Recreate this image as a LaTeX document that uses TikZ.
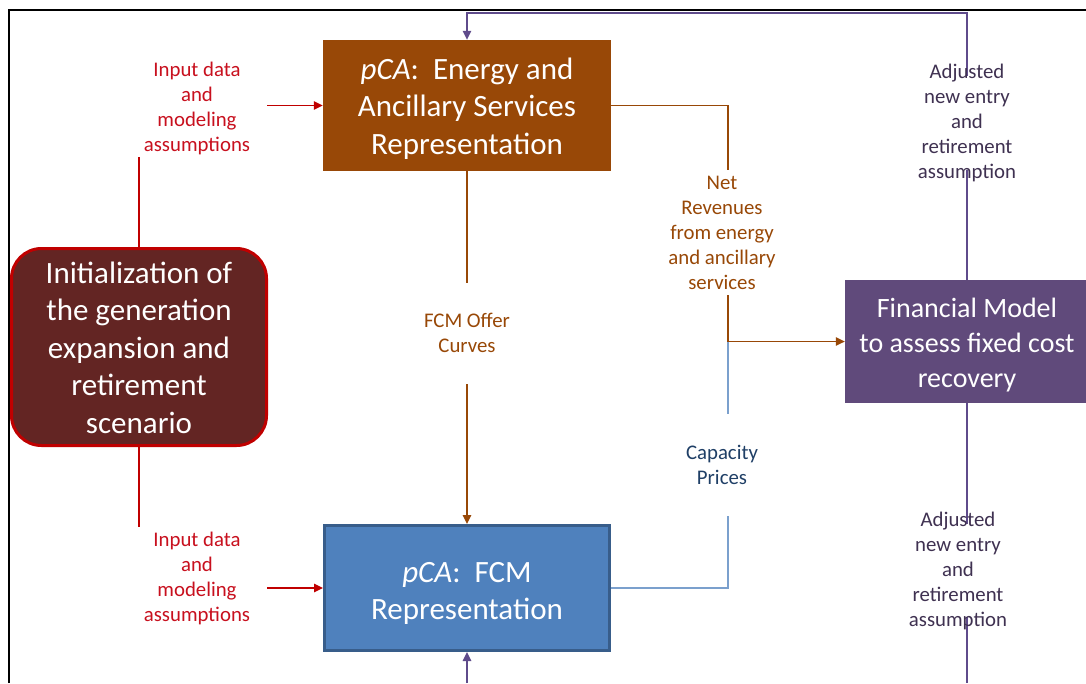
\documentclass[tikz,border=0pt]{standalone}
\usepackage{fontspec}
\setmainfont{Carlito}
\usetikzlibrary{arrows.meta}
\definecolor{esbrown}{HTML}{984807}
\definecolor{initfill}{HTML}{632523}
\definecolor{initborder}{HTML}{C00000}
\definecolor{finpurple}{HTML}{604A7B}
\definecolor{fcmblue}{HTML}{4F81BD}
\definecolor{fcmborder}{HTML}{385D8A}
\definecolor{bluelink}{HTML}{7BA0CD}
\definecolor{purplelink}{HTML}{5F4B8B}
\definecolor{purpletext}{HTML}{3F3151}
\definecolor{redtext}{HTML}{C8101E}
\definecolor{bluetext}{HTML}{1F3F66}
\newcommand\firstlinestrut[1]{\rule{0pt}{#1}}
\begin{document}
\begin{tikzpicture}[x=1pt,y=-1pt,
  boxnode/.style={inner sep=0pt, align=center, text=white, font=\fontsize{31}{37.5}\selectfont},
  lbl/.style={inner sep=0pt, align=center, fill=white, font=\fontsize{20.8}{25}\selectfont},
  conn/.style={line width=1.3pt},
  arr/.style={-{Triangle[width=8.5pt,length=9pt]}}]
\useasboundingbox (0,0) rectangle (1086,683);
\fill[white] (0,0) rectangle (1086,683);
% frame
\draw[line width=2.5pt, black] (9,683) -- (9,10) -- (1086,10);
% boxes
\node[boxnode, fill=esbrown, minimum width=288pt, minimum height=131pt] (es) at (467,105.5)
  {\firstlinestrut{27.5pt}\textit{pCA}:\ \ Energy and\\Ancillary Services\\Representation};
\node[boxnode, fill=initfill, draw=initborder, line width=3pt, rounded corners=30pt,
  minimum width=255pt, minimum height=197pt] (init) at (139,347)
  {\firstlinestrut{23pt}Initialization of\\the generation\\expansion and\\retirement\\scenario};
\node[boxnode, fill=finpurple, minimum width=244pt, minimum height=123pt,
  font=\fontsize{28}{35}\selectfont] (fin) at (967,341.5)
  {\firstlinestrut{26.5pt}Financial Model\\to assess fixed cost\\recovery};
\node[boxnode, fill=fcmblue, draw=fcmborder, line width=3pt, minimum width=285pt, minimum height=125pt,
  font=\fontsize{31}{37}\selectfont] (fcm) at (467,588)
  {\firstlinestrut{31pt}\textit{pCA}:\ \ FCM\\Representation};
% connectors
\draw[conn, initborder, arr] (init.north) |- (es.west);
\draw[conn, initborder, arr] (init.south) |- (fcm.west);
\coordinate (junc) at (728,341.5);
\draw[conn, esbrown] (es.east) -| (junc);
\draw[conn, esbrown, arr] (junc) -- (fin.west);
\draw[conn, bluelink] (fcm.east) -| (junc);
\draw[conn, esbrown, arr] (es.south) -- (fcm.north);
\coordinate (topturn) at (967,13);
\draw[conn, purplelink, arr] (fin.north) -- (topturn) -| (es.north);
\coordinate (botright) at (967,683);
\coordinate (botleft) at (467,683);
\draw[conn, purplelink] (fin.south) -- (botright);
\draw[conn, purplelink, arr] (botleft) -- (fcm.south);
% labels
\node[lbl, text=redtext, minimum width=140pt, minimum height=98pt] (in1) at (197,108)
  {Input data\\and\\modeling\\assumptions};
\node[lbl, text=redtext, minimum width=140pt, minimum height=103pt] (in2) at (197,578.5)
  {Input data\\and\\modeling\\assumptions};
\node[lbl, text=esbrown, minimum width=112pt, minimum height=125pt] (netrev) at (722,232.5)
  {Net\\Revenues\\from energy\\and ancillary\\services};
\node[lbl, text=bluetext, minimum width=90pt, minimum height=102pt] (cap) at (722,465)
  {Capacity\\Prices};
\node[lbl, text=esbrown, minimum width=110pt, minimum height=101pt] (offer) at (467,333)
  {FCM Offer\\Curves};
\node[lbl, text=purpletext, inner xsep=3pt, inner ysep=-12pt] (adj1) at (967,123)
  {Adjusted\\new entry\\and\\retirement\\assumption};
\node[lbl, text=purpletext, inner xsep=3pt, inner ysep=-12pt] (adj2) at (958,570.5)
  {Adjusted\\new entry\\and\\retirement\\assumption};
\end{tikzpicture}
\end{document}
